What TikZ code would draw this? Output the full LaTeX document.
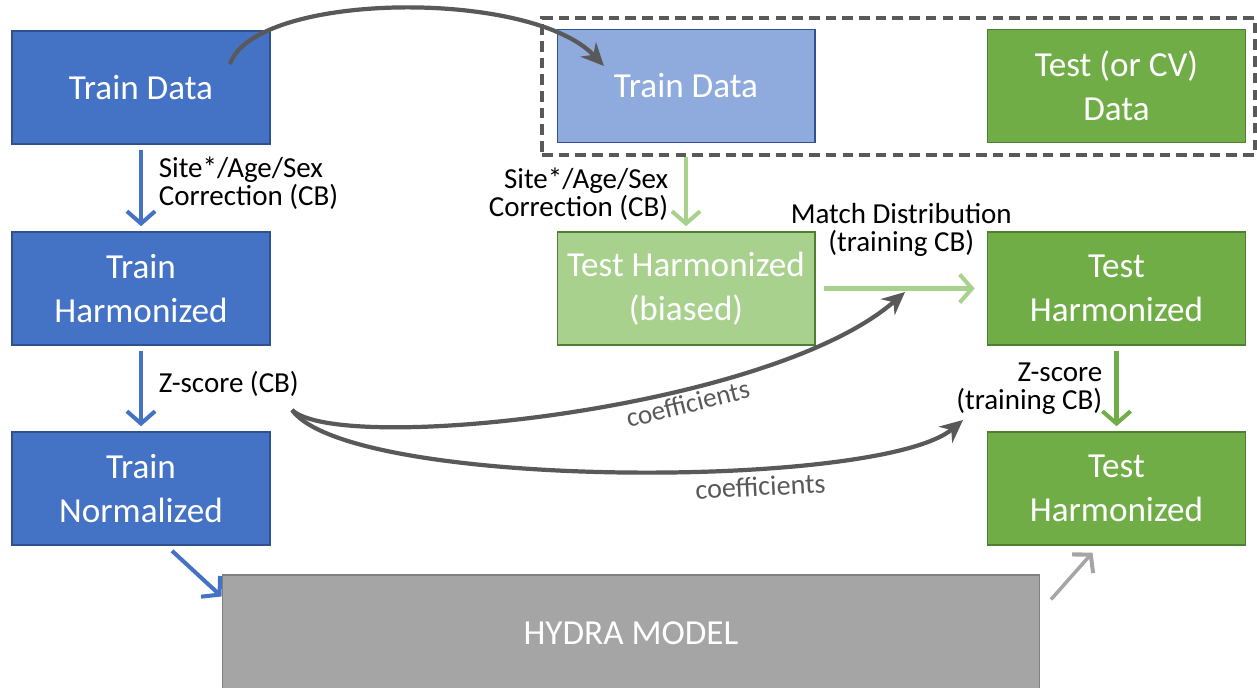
\documentclass[tikz,border=0pt]{standalone}
\usepackage{fontspec}
\setmainfont{Carlito}
\usetikzlibrary{arrows.meta, positioning}
\definecolor{boxblue}{HTML}{4472C4}
\definecolor{edgeblue}{HTML}{2F528F}
\definecolor{paleblue}{HTML}{8FAADC}
\definecolor{boxgreen}{HTML}{70AD47}
\definecolor{edgegreen}{HTML}{507E32}
\definecolor{palegreen}{HTML}{A9D18E}
\definecolor{modelgray}{HTML}{A5A5A5}
\definecolor{darkline}{HTML}{595959}

\begin{document}
\begin{tikzpicture}[x=0.02cm, y=-0.02cm,
	box/.style={draw, line width=0.6pt, minimum width=5.16cm, minimum height=2.26cm,
		align=center, text=white, font=\fontsize{20}{25}\selectfont},
	lbl/.style={text=black, font=\fontsize{16.5}{16}\selectfont, inner sep=1pt},
	flow/.style={line width=2.3pt, -{Straight Barb[length=7pt, width=16pt, line width=2.3pt]}},
	coef/.style={darkline, line width=2.4pt, -{Stealth[length=13pt, width=12pt]}}]
	\useasboundingbox (0,0) rectangle (1257,687);
	% Training side
	\node[box, fill=boxblue, draw=edgeblue] (trainData) at (141,87.5) {Train Data};
	\node[box, fill=boxblue, draw=edgeblue] (trainHarm) at (141,288.5) {Train\\Harmonized};
	\node[box, fill=boxblue, draw=edgeblue] (trainNorm) at (141,488.5) {Train\\Normalized};
	% Split (train copy + test)
	\node[draw=darkline, line width=2pt, dash pattern=on 6pt off 3.5pt,
		minimum width=14.26cm, minimum height=2.74cm] (split) at (898.5,86.5) {};
	\node[box, fill=paleblue, draw=edgeblue] (trainCopy) at (686,86) {Train Data};
	\node[box, fill=boxgreen, draw=edgegreen] (testData) at (1116.5,86) {Test (or CV)\\Data};
	% Test side
	\node[box, fill=palegreen, draw=edgegreen] (testBiased) at (686,288.5) {Test Harmonized\\(biased)};
	\node[box, fill=boxgreen, draw=edgegreen] (testHarm) at (1116.5,288.5) {Test\\Harmonized};
	\node[box, fill=boxgreen, draw=edgegreen] (testNorm) at (1116.5,488.5) {Test\\Harmonized};
	% Model
	\node[box, fill=modelgray, draw=gray, minimum width=16.36cm, minimum height=2.32cm] (hydra)
		at (631,633) {HYDRA MODEL};
	% Straight arrows
	\draw[flow, boxblue, shorten <=3pt, shorten >=3pt] (trainData) -- (trainHarm)
		node[lbl, pos=0.45, right=8pt, align=left] {Site*/Age/Sex\\Correction (CB)};
	\draw[flow, boxblue, shorten <=3pt, shorten >=3pt] (trainHarm) -- (trainNorm)
		node[lbl, pos=0.45, right=8pt] {Z-score (CB)};
	\draw[flow, boxblue] ([xshift=0.62cm, yshift=-3pt]trainNorm.south) -- ([yshift=-0.44cm]hydra.north west);
	\draw[flow, palegreen, shorten >=3pt] (split.south -| testBiased) -- (testBiased)
		node[lbl, pos=0.5, left=8pt, align=right] {Site*/Age/Sex\\Correction (CB)};
	\draw[flow, palegreen, shorten <=5pt, shorten >=7pt] (testBiased) -- (testHarm)
		node[lbl, midway, above=16pt, align=center] {Match Distribution\\(training CB)};
	\draw[flow, boxgreen, shorten <=3pt, shorten >=3pt] (testHarm) -- (testNorm)
		node[lbl, pos=0.5, left=6pt, align=right] {Z-score\\(training CB)};
	\draw[flow, modelgray, line width=2pt] ([xshift=6pt, yshift=-0.5cm]hydra.north east) -- ([xshift=-0.48cm, yshift=-4pt]testNorm.south);
	% Curved arrows
	\coordinate (copyFrom) at (230,64);
	\coordinate (copyTo) at (604,66);
	\coordinate (zFrom) at (292,410);
	\coordinate (matchTo) at (905,292);
	\coordinate (zTo) at (963,420);
	\draw[coef] (copyFrom) .. controls (255,-8) and (530,-12) .. (copyTo);
	\draw[coef] (zFrom) .. controls (340,455) and (770,410) .. (matchTo)
		node[pos=0.65, sloped, below=-1pt, darkline, font=\fontsize{15.5}{18}\selectfont] {coefficients};
	\draw[coef] (zFrom) .. controls (350,490) and (880,490) .. (zTo)
		node[pos=0.66, below=1pt, darkline, rotate=3, font=\fontsize{16}{18}\selectfont] {coefficients};
\end{tikzpicture}
\end{document}
